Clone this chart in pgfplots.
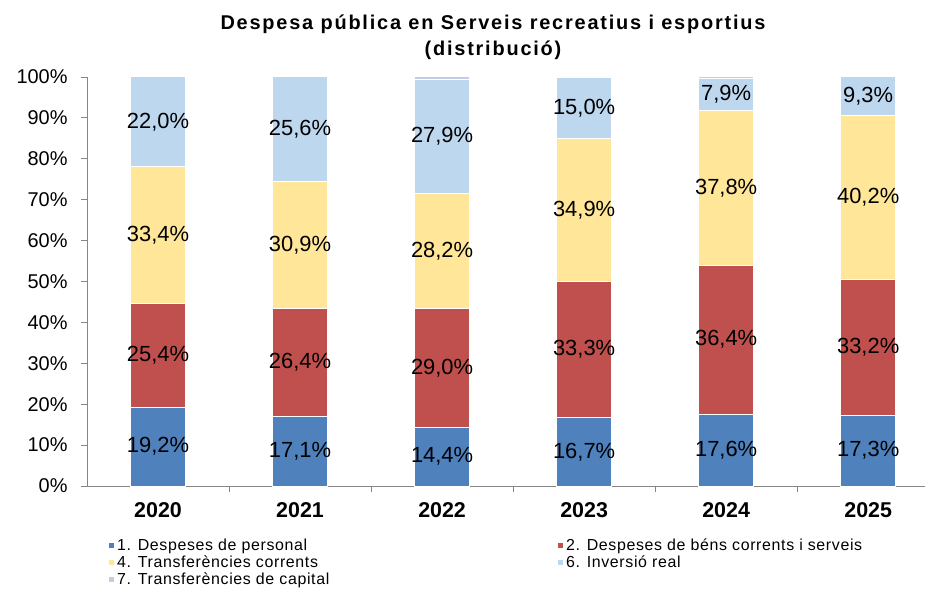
\documentclass[border=0pt]{standalone}
\usepackage{pgfplots}
\pgfplotsset{compat=1.18}
\usepackage{pgfplotstable}
\usepackage{fontspec}
\setmainfont{Liberation Sans}
\definecolor{c1}{HTML}{4F81BD}
\definecolor{c2}{HTML}{C0504D}
\definecolor{c4}{HTML}{FFE699}
\definecolor{c6}{HTML}{BDD7EE}
\definecolor{c7}{HTML}{C5CBE3}
\definecolor{axgray}{HTML}{868686}

\pgfplotstableread{
x s1 s2 s4 s6 s7
0 19.2 25.4 33.4 22.0 0.0
1 17.1 26.4 30.9 25.6 0.0
2 14.4 29.0 28.2 27.9 0.5
3 16.7 33.3 34.9 15.0 0.1
4 17.6 36.4 37.8 7.9 0.3
5 17.3 33.2 40.2 9.3 0.0
}\datatab

\pgfplotstableread{
x y v
0 9.6 19.2
0 31.9 25.4
0 61.3 33.4
0 89.0 22.0
1 8.55 17.1
1 30.3 26.4
1 58.95 30.9
1 87.2 25.6
2 7.2 14.4
2 28.9 29.0
2 57.5 28.2
2 85.55 27.9
3 8.35 16.7
3 33.35 33.3
3 67.45 34.9
3 92.4 15.0
4 8.8 17.6
4 35.8 36.4
4 72.9 37.8
4 95.75 7.9
5 8.65 17.3
5 33.9 33.2
5 70.6 40.2
5 95.35 9.3
}\labeltab

\begin{document}
\begin{tikzpicture}
\useasboundingbox (-87bp,-105bp) rectangle (838bp,486bp);
\begin{axis}[
  at={(0,0)}, anchor=south west,
  scale only axis, width=838bp, height=409bp,
  ybar stacked, bar width=55bp,
  xmin=-0.5, xmax=5.4, ymin=0, ymax=100,
  axis x line*=bottom, axis y line*=left,
  axis line style={axgray, line width=0.8bp},
  every tick/.style={axgray, line width=0.8bp},
  tick align=outside,
  major tick length=6bp,
  xtick={0.5,1.5,2.5,3.5,4.5}, xticklabels={},
  extra x ticks={0,1,2,3,4,5},
  extra x tick labels={2020,2021,2022,2023,2024,2025},
  extra x tick style={major tick length=0pt,
     tick label style={font=\bfseries\fontsize{21.5}{24}\selectfont, yshift=-13bp}},
  ytick={0,10,...,100},
  yticklabel={\pgfmathprintnumber{\tick}\%},
  /pgf/number format/assume math mode=true,
  yticklabel style={font=\fontsize{20}{24}\selectfont, xshift=-10bp},
  legend columns=2,
  legend cell align=left,
  legend style={draw=none, fill=none, at={(rel axis cs:0.025,-0.124)}, anchor=north west,
     font=\addfontfeature{LetterSpace=4}\fontsize{16}{18}\selectfont, row sep=0pt, inner sep=0pt,
     nodes={inner xsep=2bp, inner ysep=0pt, minimum height=17bp}},
  legend image code/.code={\fill[#1] (0bp,-3bp) rectangle (6bp,3bp);},
  clip=false,
]
\addplot[fill=c1, draw=white, line width=1bp] table[x=x,y=s1] {\datatab};
\addplot[fill=c2, draw=white, line width=1bp] table[x=x,y=s2] {\datatab};
\addplot[fill=c4, draw=white, line width=1bp] table[x=x,y=s4] {\datatab};
\addplot[fill=c6, draw=white, line width=1bp] table[x=x,y=s6] {\datatab};
\addplot[fill=c7, draw=white, line width=1bp] table[x=x,y=s7] {\datatab};
\addlegendentry{\makebox[438bp][l]{1. Despeses de personal}}
\addlegendentry{2. Despeses de béns corrents i serveis}
\addlegendentry{\makebox[438bp][l]{4. Transferències corrents}}
\addlegendentry{6. Inversió real}
\addlegendentry{\makebox[438bp][l]{7. Transferències de capital}}
\end{axis}
\begin{axis}[
  at={(0,0)}, anchor=south west,
  scale only axis, width=838bp, height=409bp,
  xmin=-0.5, xmax=5.4, ymin=0, ymax=100,
  hide axis, clip=false,
]
\addplot[draw=none, mark=none, nodes near coords={\pgfmathprintnumber[fixed,fixed zerofill,precision=1,use comma,assume math mode=true]{\pgfplotspointmeta}\%},
  point meta=explicit,
  every node near coord/.style={anchor=center, font=\fontsize{22}{24}\selectfont, text=black}]
  table[x=x,y=y,meta=v] {\labeltab};
\end{axis}
\node[font=\bfseries\addfontfeature{LetterSpace=9}\fontsize{20}{26}\selectfont, align=center] at (406bp,449bp)
  {Despesa pública en Serveis recreatius i esportius\\(distribució)};
\end{tikzpicture}
\end{document}
